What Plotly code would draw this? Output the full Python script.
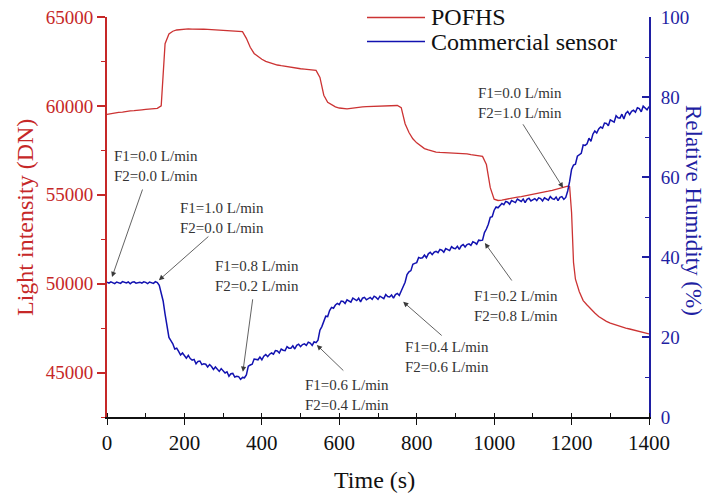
import plotly.graph_objects as go

# ---- measured series -------------------------------------------------------
# POFHS light intensity (DN); 10 s sampling with extra samples around the fast drop
time_pofhs = list(range(0, 1191, 10)) + [1195, 1200, 1205, 1210] + list(range(1220, 1401, 10))
pofhs_dn = [
    59520, 59570, 59590, 59640, 59650, 59700, 59720, 59730, 59770, 59780,
    59800, 59820, 59830, 59860, 60000, 63500, 64050, 64200, 64270, 64300,
    64320, 64330, 64320, 64330, 64310, 64310, 64300, 64290, 64290, 64270,
    64270, 64250, 64250, 64230, 64220, 64180, 63800, 63300, 62950, 62780,
    62620, 62500, 62420, 62350, 62300, 62260, 62220, 62180, 62150, 62110,
    62090, 62070, 62050, 62030, 62000, 61600, 60600, 60200, 60050, 59950,
    59880, 59840, 59830, 59860, 59900, 59930, 59950, 59960, 59970, 59970,
    59980, 59990, 59990, 60000, 60010, 60020, 59900, 59000, 58500, 58150,
    57920, 57750, 57600, 57520, 57450, 57400, 57380, 57370, 57360, 57350,
    57350, 57340, 57320, 57300, 57260, 57230, 57200, 57160, 56700, 55400,
    54750, 54680, 54700, 54750, 54800, 54830, 54870, 54900, 54940, 54970,
    55000, 55050, 55100, 55150, 55200, 55250, 55300, 55350, 55400, 55480,
    55450, 54000, 51200, 50250,
    49550, 49050, 48800, 48550, 48350, 48150, 48000, 47880,
    47780, 47700, 47620, 47560, 47500, 47450, 47400, 47330, 47270, 47220,
    47180,
]

# Commercial sensor relative humidity (%), sampled every 5 s
time_rh = list(range(0, 1401, 5))
rh_pct = [
    33.7, 33.45, 33.8, 33.65, 33.35, 33.75, 33.55, 33.4, 33.85, 33.6,
    33.5, 33.75, 33.3, 33.7, 33.8, 33.45, 33.65, 33.7, 33.45, 33.8,
    33.65, 33.35, 33.75, 33.55, 33.4, 33.85, 33.6, 32.9, 31.15, 29.0,
    25.7, 22.7, 19.9, 19.1, 18.3, 17.0, 17.2, 16.4, 15.5, 16.0,
    15.3, 14.7, 15.4, 14.6, 14.2, 14.4, 13.3, 13.9, 14.0, 13.1,
    13.3, 13.2, 12.5, 13.1, 12.6, 11.9, 12.5, 11.9, 11.4, 12.1,
    11.4, 11.0, 11.3, 10.2, 10.8, 10.9, 10.0, 10.2, 10.1, 9.4,
    9.9, 9.8, 10.5, 12.7, 13.0, 13.2, 14.5, 14.3, 14.3, 15.0,
    14.3, 15.2, 15.6, 15.1, 15.7, 16.0, 15.7, 16.6, 16.5, 16.0,
    17.0, 16.7, 16.6, 17.6, 17.2, 17.2, 17.8, 17.0, 17.9, 18.2,
    17.6, 18.1, 18.3, 17.9, 18.7, 18.5, 17.9, 18.8, 18.6, 19.2,
    21.7, 22.6, 23.7, 25.2, 25.1, 26.6, 27.4, 27.2, 28.0, 28.4,
    28.1, 29.0, 28.9, 28.4, 29.3, 29.0, 28.7, 29.7, 29.3, 29.1,
    29.7, 28.8, 29.7, 29.9, 29.3, 29.7, 29.9, 29.4, 30.2, 29.9,
    29.4, 30.2, 29.9, 29.6, 30.6, 30.1, 30.0, 30.5, 29.7, 30.6,
    30.9, 30.4, 31.5, 32.8, 33.7, 35.6, 36.3, 36.6, 38.2, 38.4,
    38.6, 39.9, 39.7, 39.8, 40.5, 39.8, 40.8, 41.2, 40.6, 41.2,
    41.4, 41.1, 41.9, 41.7, 41.2, 42.1, 41.8, 41.6, 42.6, 42.2,
    42.1, 42.7, 41.9, 42.8, 43.1, 42.5, 43.1, 43.3, 42.9, 43.8,
    43.6, 43.2, 44.2, 44.1, 44.2, 46.1, 47.0, 48.2, 49.9, 50.1,
    51.7, 52.5, 52.3, 53.0, 53.4, 53.1, 53.9, 53.7, 53.2, 54.1,
    53.8, 53.6, 54.5, 54.1, 53.9, 54.5, 53.6, 54.4, 54.7, 54.0,
    54.4, 54.6, 54.1, 54.8, 54.6, 54.0, 54.8, 54.4, 54.2, 55.1,
    54.6, 54.4, 55.0, 54.1, 54.9, 55.1, 54.4, 54.9, 56.5, 58.9,
    61.9, 63.0, 63.2, 65.2, 65.6, 65.9, 68.0, 67.9, 68.3, 69.7,
    68.9, 70.7, 71.5, 71.0, 72.0, 72.5, 72.2, 73.5, 73.4, 72.8,
    74.3, 73.9, 73.7, 75.3, 74.8, 74.7, 75.7, 74.5, 75.9, 76.4,
    75.6, 76.4, 76.7, 76.2, 77.3, 77.1, 76.3, 77.7, 77.2, 76.8,
    77.6,
]

# Flow-rate switch events: label values, time (s) and RH (%) at the arrow tip
event_f1 = ["0.0", "1.0", "0.8", "0.6", "0.4", "0.2", "0.0"]
event_f2 = ["0.0", "0.0", "0.2", "0.4", "0.6", "0.8", "1.0"]
event_time = [13, 134, 351, 542, 765, 976, 1178]
event_rh = [35.0, 34.2, 11.3, 18.0, 28.8, 43.5, 57.3]

# ---- styling ---------------------------------------------------------------
SERIF = "Liberation Serif, Times New Roman, serif"
RED_LINE = "#CC3333"
RED_AXIS = "#C62828"
BLUE_LINE = "#1212B0"
BLUE_AXIS = "#1F1FA3"
TEXT_GREY = "#333333"

W, H = 708, 495
ML, MR, MT, MB = 107, 59, 17, 78
PW, PH = W - ML - MR, H - MT - MB


def px_x(p):
    return (p - ML) / PW


def px_y(p):
    return (H - MB - p) / PH


fig = go.Figure()
fig.add_trace(go.Scatter(
    x=time_pofhs, y=pofhs_dn, name="POFHS", mode="lines",
    line=dict(color=RED_LINE, width=1.3), yaxis="y", showlegend=False,
))
fig.add_trace(go.Scatter(
    x=time_rh, y=rh_pct, name="Commercial sensor", mode="lines",
    line=dict(color=BLUE_LINE, width=1.5), yaxis="y2", showlegend=False,
))

annotations = []
shapes = []

# label text blocks (left edge px, vertical centre px) and arrow tail offsets
label_pos = [(112, 166), (178, 218), (213, 276), (303, 395),
             (403, 357), (472, 306), (476, 103)]
tail_off = [(31, -89), (51, -45), (10, -74), (28, 27), (40, 35), (28, 39), (-41, -65)]

for f1, f2, t, rh, (lx, ly), (ax, ay) in zip(event_f1, event_f2, event_time,
                                              event_rh, label_pos, tail_off):
    annotations.append(dict(
        xref="paper", yref="paper", x=px_x(lx), y=px_y(ly),
        xanchor="left", yanchor="middle", align="left", showarrow=False,
        text=f"F1={f1} L/min<br>F2={f2} L/min",
        font=dict(family=SERIF, size=15, color=TEXT_GREY),
    ))
    annotations.append(dict(
        xref="x", yref="y2", x=t, y=rh, text="", showarrow=True,
        ax=ax, ay=ay, arrowhead=2, arrowsize=1.3, arrowwidth=0.8,
        arrowcolor="#3a3a3a",
    ))

# axis titles
annotations += [
    dict(xref="paper", yref="paper", x=px_x(374), y=px_y(480), showarrow=False,
         xanchor="center", yanchor="middle",
         text="Time (s)", font=dict(family=SERIF, size=24, color="#111111")),
    dict(xref="paper", yref="paper", x=px_x(25), y=px_y(218), showarrow=False,
         xanchor="center", yanchor="middle",
         textangle=-90, text="Light intensity (DN)",
         font=dict(family=SERIF, size=24, color=RED_AXIS)),
    dict(xref="paper", yref="paper", x=px_x(694), y=px_y(210), showarrow=False,
         xanchor="center", yanchor="middle",
         textangle=90, text="Relative Humidity (%)",
         font=dict(family=SERIF, size=23, color=BLUE_AXIS)),
]

# legend
for name, color, yc in [("POFHS", RED_LINE, 17.5), ("Commercial sensor", BLUE_LINE, 41.5)]:
    shapes.append(dict(type="line", xref="paper", yref="paper",
                       x0=px_x(367), x1=px_x(425), y0=px_y(yc), y1=px_y(yc),
                       line=dict(color=color, width=1.3)))
    annotations.append(dict(xref="paper", yref="paper", x=px_x(429), y=px_y(yc),
                            xanchor="left", yanchor="middle", showarrow=False,
                            text=name, font=dict(family=SERIF, size=24, color="#111111")))

fig.update_layout(
    width=W, height=H,
    margin=dict(l=ML, r=MR, t=MT, b=MB, autoexpand=False),
    paper_bgcolor="white", plot_bgcolor="white",
    font=dict(family=SERIF),
    xaxis=dict(
        range=[0, 1400], dtick=200, tick0=0, showgrid=False, zeroline=False,
        showline=True, linecolor="#111111", linewidth=1.5,
        ticks="outside", ticklen=6, tickwidth=1.3, tickcolor="#111111",
        minor=dict(dtick=100, ticks="inside", ticklen=4, tickwidth=1.2, tickcolor="#111111"),
        tickfont=dict(family=SERIF, size=21, color="#111111"),
    ),
    yaxis=dict(
        range=[42500, 65000], dtick=5000, tick0=0, tickformat="d",
        showgrid=False, zeroline=False,
        showline=True, linecolor=RED_AXIS, linewidth=2,
        ticks="outside", ticklen=8, tickwidth=1.5, tickcolor=RED_AXIS,
        minor=dict(dtick=2500, ticks="outside", ticklen=4, tickwidth=1.3, tickcolor=RED_AXIS),
        tickfont=dict(family=SERIF, size=19, color=RED_AXIS),
    ),
    yaxis2=dict(
        range=[0, 100], dtick=20, tick0=0, overlaying="y", side="right", anchor="x",
        showgrid=False, zeroline=False,
        showline=True, linecolor=BLUE_AXIS, linewidth=2,
        ticks="inside", ticklen=7, tickwidth=1.5, tickcolor=BLUE_AXIS,
        minor=dict(dtick=10, ticks="inside", ticklen=4, tickwidth=1.3, tickcolor=BLUE_AXIS),
        tickfont=dict(family=SERIF, size=19, color=BLUE_AXIS),
        ticklabelstandoff=6,
    ),
    annotations=annotations,
    shapes=shapes,
)

fig.write_html("out.html")
